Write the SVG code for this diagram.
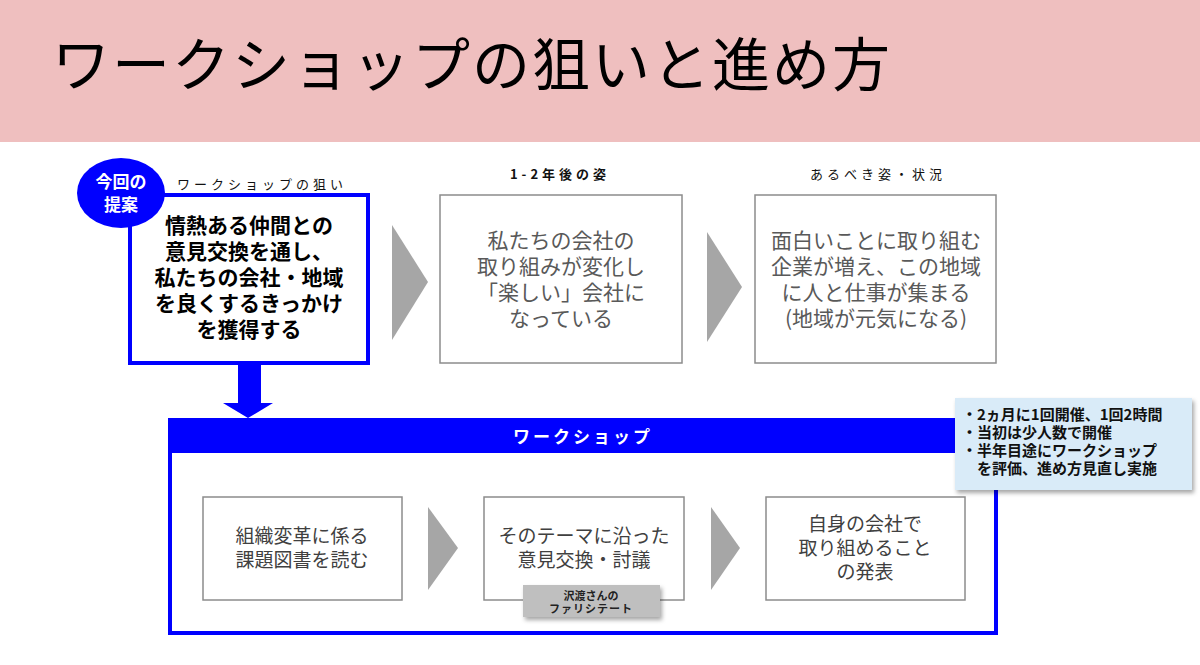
<svg xmlns="http://www.w3.org/2000/svg" width="1200" height="665" viewBox="0 0 1200 665">
<defs>
<style>
text{font-family:"Noto Sans CJK JP","Noto Sans",sans-serif;}
.ttl{font-size:58px;fill:#000;letter-spacing:2px;}
.lbl{font-size:13px;fill:#111;letter-spacing:4px;text-anchor:middle;}
.gbox{fill:#fff;stroke:#8c8c8c;stroke-width:1.5;}
.gtx{font-size:21px;fill:#595959;text-anchor:middle;}
.itx{font-size:19px;fill:#404040;text-anchor:middle;}
.btx{font-size:21px;font-weight:bold;fill:#000;text-anchor:middle;}
.chev{fill:#a6a6a6;}
.blue{fill:#0000ff;}
.note{font-size:15px;font-weight:bold;fill:#111;}
</style>
<filter id="sh" x="-10%" y="-10%" width="130%" height="140%">
<feDropShadow dx="2" dy="3" stdDeviation="2" flood-color="#000" flood-opacity="0.35"/>
</filter>
</defs>
<rect width="1200" height="665" fill="#fff"/>
<g id="header">
<rect x="0" y="0" width="1200" height="142" fill="#efbfbf"/>
<text class="ttl" x="52" y="86">ワークショップの狙いと進め方</text>
</g>
<g id="connectors">
<polygon class="chev" points="392,225 428,282 392,340"/>
<polygon class="chev" points="707,232 742,287 707,342"/>
<polygon class="blue" points="238,363 261,363 261,403 273,403 248,418 223,403 238,403"/>
<polygon class="chev" points="428,507 458,548 428,590"/>
<polygon class="chev" points="711,507 740,548 711,590"/>
</g>
<g id="aim">
<text class="lbl" x="262" y="189">ワークショップの狙い</text>
<rect x="130" y="195" width="238" height="168" fill="#fff" stroke="#0000ff" stroke-width="4"/>
<text class="btx" x="249" y="233">情熱ある仲間との</text>
<text class="btx" x="249" y="259">意見交換を通し、</text>
<text class="btx" x="249" y="285">私たちの会社・地域</text>
<text class="btx" x="249" y="311">を良くするきっかけ</text>
<text class="btx" x="249" y="337">を獲得する</text>
</g>
<g id="proposal">
<ellipse cx="121" cy="193" rx="44" ry="35" fill="#0000ff"/>
<text x="121" y="188" font-size="17" font-weight="bold" fill="#fff" text-anchor="middle">今回の</text>
<text x="121" y="211" font-size="17" font-weight="bold" fill="#fff" text-anchor="middle">提案</text>
</g>
<g id="future">
<text class="lbl" x="560" y="179" font-weight="bold">1-2年後の姿</text>
<rect class="gbox" x="440" y="195" width="242" height="168"/>
<text class="gtx" x="561" y="248">私たちの会社の</text>
<text class="gtx" x="561" y="274">取り組みが変化し</text>
<text class="gtx" x="561" y="300">「楽しい」会社に</text>
<text class="gtx" x="561" y="326">なっている</text>
</g>
<g id="ideal">
<text class="lbl" x="878" y="179">あるべき姿・状況</text>
<rect class="gbox" x="755" y="195" width="241" height="168"/>
<text class="gtx" x="876" y="248">面白いことに取り組む</text>
<text class="gtx" x="876" y="274">企業が増え、この地域</text>
<text class="gtx" x="876" y="300">に人と仕事が集まる</text>
<text class="gtx" x="876" y="326">(地域が元気になる)</text>
</g>
<g id="workshop">
<rect x="170" y="420" width="826" height="213" fill="none" stroke="#0000ff" stroke-width="4"/>
<rect class="blue" x="168" y="418" width="830" height="35"/>
<text x="583" y="443" font-size="17" font-weight="bold" fill="#fff" text-anchor="middle" letter-spacing="3">ワークショップ</text>
</g>
<g id="step1">
<rect class="gbox" x="203" y="497" width="199" height="103"/>
<text class="itx" x="302" y="543">組織変革に係る</text>
<text class="itx" x="302" y="567">課題図書を読む</text>
</g>
<g id="step2">
<rect class="gbox" x="484" y="497" width="200" height="103"/>
<text class="itx" x="584" y="543">そのテーマに沿った</text>
<text class="itx" x="584" y="567">意見交換・討議</text>
</g>
<g id="step3">
<rect class="gbox" x="766" y="497" width="199" height="103"/>
<text class="itx" x="865" y="531">自身の会社で</text>
<text class="itx" x="865" y="555">取り組めること</text>
<text class="itx" x="865" y="579">の発表</text>
</g>
<g id="facilitator">
<rect x="523" y="585" width="137" height="32" fill="#bfbfbf" filter="url(#sh)"/>
<text x="591" y="600" font-size="11" font-weight="bold" fill="#222" text-anchor="middle">沢渡さんの</text>
<text x="591" y="613" font-size="11" font-weight="bold" fill="#222" text-anchor="middle" letter-spacing="1">ファリシテート</text>
</g>
<g id="note">
<rect x="955" y="398" width="237" height="92" fill="#d9ebf8" filter="url(#sh)"/>
<text class="note" x="962" y="420">・2ヵ月に1回開催、1回2時間</text>
<text class="note" x="962" y="438">・当初は少人数で開催</text>
<text class="note" x="962" y="456">・半年目途にワークショップ</text>
<text class="note" x="962" y="474">　を評価、進め方見直し実施</text>
</g>
</svg>
